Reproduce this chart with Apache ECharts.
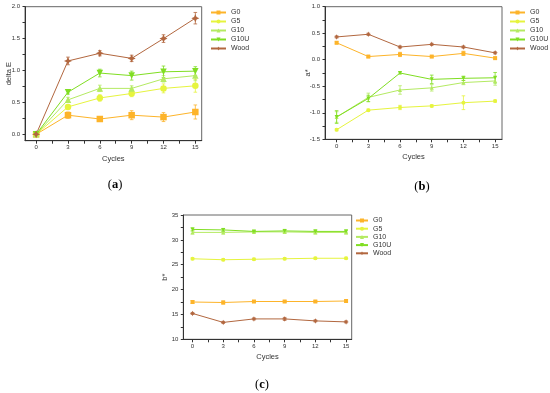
<!DOCTYPE html>
<html><head><meta charset="utf-8">
<script src="https://cdn.jsdelivr.net/npm/echarts@6/dist/echarts.min.js"></script>
<style>html,body{margin:0;padding:0;background:#fff}#c{width:550px;height:393px}</style>
</head><body><div id="c"></div>
<script>
// ---- data ----
const cycles = [0, 3, 6, 9, 12, 15];
const groups = ['G0', 'G5', 'G10', 'G10U', 'Wood'];
const xTicks = [0, 3, 6, 9, 12, 15];

// (a) delta E
const dE_G0   = [0, 0.30, 0.24, 0.30, 0.27, 0.35];
const dE_G5   = [0, 0.43, 0.57, 0.64, 0.72, 0.76];
const dE_G10  = [0, 0.54, 0.72, 0.72, 0.87, 0.92];
const dE_G10U = [0, 0.66, 0.96, 0.92, 0.98, 0.99];
const dE_Wood = [0, 1.15, 1.27, 1.19, 1.50, 1.82];
const dEerr_G0   = [0, 0.05, 0.03, 0.07, 0.07, 0.11];
const dEerr_G5   = [0, 0.03, 0.05, 0.05, 0.07, 0.10];
const dEerr_G10  = [0, 0.04, 0.05, 0.04, 0.05, 0.08];
const dEerr_G10U = [0, 0.03, 0.06, 0.07, 0.09, 0.07];
const dEerr_Wood = [0, 0.06, 0.04, 0.05, 0.06, 0.09];
const dETicks = [0, 0.5, 1.0, 1.5, 2.0];

// (b) a*
const a_G0   = [0.32, 0.06, 0.10, 0.06, 0.12, 0.03];
const a_G5   = [-1.32, -0.95, -0.90, -0.87, -0.81, -0.78];
const a_G10  = [-1.08, -0.71, -0.57, -0.53, -0.43, -0.40];
const a_G10U = [-1.08, -0.73, -0.25, -0.37, -0.35, -0.34];
const a_Wood = [0.43, 0.48, 0.24, 0.29, 0.24, 0.13];
const aerr_G0   = [0.02, 0.02, 0.04, 0.02, 0.04, 0.02];
const aerr_G5   = [0.02, 0.02, 0.04, 0.02, 0.13, 0.02];
const aerr_G10  = [0.10, 0.08, 0.08, 0.06, 0.04, 0.08];
const aerr_G10U = [0.12, 0.06, 0.02, 0.08, 0.04, 0.10];
const aerr_Wood = [0.02, 0.02, 0.02, 0.02, 0.02, 0.02];

// (c) b*
const b_G0   = [17.5, 17.4, 17.6, 17.6, 17.6, 17.7];
const b_G5   = [26.2, 26.0, 26.1, 26.2, 26.3, 26.3];
const b_G10  = [31.5, 31.5, 31.6, 31.6, 31.5, 31.5];
const b_G10U = [32.1, 32.0, 31.7, 31.8, 31.7, 31.7];
const b_Wood = [15.2, 13.4, 14.1, 14.1, 13.7, 13.5];
const berr_G0   = [0.3, 0.3, 0.2, 0.2, 0.2, 0.2];
const berr_G5   = [0.2, 0.2, 0.2, 0.2, 0.2, 0.2];
const berr_G10  = [0.3, 0.3, 0.2, 0.3, 0.3, 0.3];
const berr_G10U = [0.3, 0.3, 0.2, 0.3, 0.3, 0.3];
const berr_Wood = [0.2, 0.2, 0.2, 0.3, 0.2, 0.2];

// ---- styles ----
const colors = { G0: '#FDB42A', G5: '#E6F43E', G10: '#B4EA62', G10U: '#80DE22', Wood: '#B2673F' };
const starPath = 'path://M5,0 L6.6,3.4 L10,5 L6.6,6.6 L5,10 L3.4,6.6 L0,5 L3.4,3.4 Z';
const symbols = { G0: 'rect', G5: 'circle', G10: 'triangle', G10U: 'path://M0,0 L10,0 L5,9 Z', Wood: starPath };

const panels = [
  { vals: [dE_G0, dE_G5, dE_G10, dE_G10U, dE_Wood], errs: [dEerr_G0, dEerr_G5, dEerr_G10, dEerr_G10U, dEerr_Wood],
    grid: { left: 25, top: 6.7, width: 176.7, height: 134 }, x: [-1.05, 15.6],
    y: { min: -0.1, max: 2.0, labels: dETicks, ticks: [0,0.25,0.5,0.75,1,1.25,1.5,1.75,2.0], fmt: v => v.toFixed(1) },
    yname: 'delta E', ygap: 12, legend: { left: 210, top: 9, gap: 2, w: 15 }, sym: 6.5, tag: 'a', tagPos: [115, 185] },
  { vals: [a_G0, a_G5, a_G10, a_G10U, a_Wood], errs: [aerr_G0, aerr_G5, aerr_G10, aerr_G10U, aerr_Wood],
    grid: { left: 325, top: 6.7, width: 177, height: 132.6 }, x: [-1.1, 15.65],
    y: { min: -1.5, max: 1.0, labels: [-1.5,-1,-0.5,0,0.5,1], ticks: [-1.5,-1.25,-1,-0.75,-0.5,-0.25,0,0.25,0.5,0.75,1], fmt: v => v.toFixed(1) },
    yname: 'a*', ygap: 13, legend: { left: 509, top: 9, gap: 2, w: 15 }, sym: 4, tag: 'b', tagPos: [422, 187] },
  { vals: [b_G0, b_G5, b_G10, b_G10U, b_Wood], errs: [berr_G0, berr_G5, berr_G10, berr_G10U, berr_Wood],
    grid: { left: 183.3, top: 215, width: 168.4, height: 124.3 }, x: [-0.9, 15.55],
    y: { min: 10, max: 35, labels: [10,15,20,25,30,35], ticks: [10,12.5,15,17.5,20,22.5,25,27.5,30,32.5,35], fmt: v => String(v) },
    yname: 'b*', ygap: 14, legend: { left: 355, top: 217, gap: 1.2, w: 12 }, sym: 4, tag: 'c', tagPos: [262, 385] }
];

const axisBase = {
  axisLine: { show: true, onZero: false, lineStyle: { color: '#333', width: 1 } },
  splitLine: { show: false },
  axisLabel: { fontSize: 6, color: '#333', fontFamily: 'Liberation Sans' }
};

const grids = [], xAxes = [], yAxes = [], series = [], legends = [], graphics = [];
panels.forEach((p, i) => {
  grids.push(Object.assign({ show: true, borderColor: '#666', borderWidth: 1, backgroundColor: 'transparent' }, p.grid));
  xAxes.push({
    type: 'value', gridIndex: i, min: p.x[0], max: p.x[1],
    name: 'Cycles', nameLocation: 'middle', nameGap: 14,
    nameTextStyle: { fontSize: 7.5, color: '#333', fontFamily: 'Liberation Sans' },
    axisLine: axisBase.axisLine, splitLine: axisBase.splitLine,
    axisTick: { show: true, length: 3, customValues: [0,1.5,3,4.5,6,7.5,9,10.5,12,13.5,15], lineStyle: { color: '#333' } },
    axisLabel: Object.assign({ customValues: xTicks, margin: 4 }, axisBase.axisLabel)
  });
  yAxes.push({
    type: 'value', gridIndex: i, min: p.y.min, max: p.y.max,
    name: p.yname, nameLocation: 'middle', nameGap: p.ygap, nameMoveOverlap: false,
    nameTextStyle: { fontSize: 7.5, color: '#333', fontFamily: 'Liberation Sans' },
    axisLine: axisBase.axisLine, splitLine: axisBase.splitLine,
    axisTick: { show: true, length: 2.5, customValues: p.y.ticks, lineStyle: { color: '#333' } },
    axisLabel: Object.assign({ customValues: p.y.labels, margin: 5, formatter: p.y.fmt }, axisBase.axisLabel)
  });
  groups.forEach((g, k) => {
    const col = colors[g];
    series.push({
      type: 'line', name: g, xAxisIndex: i, yAxisIndex: i,
      data: cycles.map((c, j) => [c, p.vals[k][j]]),
      symbol: symbols[g], symbolSize: g === 'Wood' ? p.sym + 1.5 : p.sym,
      lineStyle: { color: col, width: 1 }, itemStyle: { color: col },
      z: 3
    });
    series.push({
      type: 'custom', name: g + ' err', xAxisIndex: i, yAxisIndex: i,
      data: cycles.map((c, j) => [c, p.vals[k][j], p.errs[k][j]]),
      renderItem: (params, api) => {
        const x = api.value(0), y = api.value(1), e = api.value(2);
        if (!e) return null;
        const hi = api.coord([x, y + e]), lo = api.coord([x, y - e]);
        const w = 1.8, st = { stroke: col, lineWidth: 0.8 };
        return { type: 'group', children: [
          { type: 'line', shape: { x1: hi[0], y1: hi[1], x2: lo[0], y2: lo[1] }, style: st },
          { type: 'line', shape: { x1: hi[0] - w, y1: hi[1], x2: hi[0] + w, y2: hi[1] }, style: st },
          { type: 'line', shape: { x1: lo[0] - w, y1: lo[1], x2: lo[0] + w, y2: lo[1] }, style: st }
        ] };
      },
      z: 2, silent: true
    });
  });
  legends.push({
    orient: 'vertical', left: p.legend.left, top: p.legend.top, padding: 0,
    itemWidth: p.legend.w, itemHeight: 5, itemGap: p.legend.gap,
    textStyle: { fontSize: 7, color: '#333', fontFamily: 'Liberation Sans', lineHeight: 6 },
    data: groups
  });
  graphics.push({
    type: 'text', x: p.tagPos[0], y: p.tagPos[1],
    style: { text: '{p|(}{b|' + p.tag + '}{p|)}', align: 'center', verticalAlign: 'middle',
      rich: { p: { fontSize: 12.5, fontFamily: 'Liberation Serif', fill: '#000' },
              b: { fontSize: 12.5, fontFamily: 'Liberation Serif', fontWeight: 'bold', fill: '#000' } } }
  });
});

const chart = echarts.init(document.getElementById('c'), null, { renderer: 'canvas' });
chart.setOption({
  animation: false,
  backgroundColor: '#fff',
  grid: grids, xAxis: xAxes, yAxis: yAxes, series: series, legend: legends, graphic: graphics
});
</script></body></html>
